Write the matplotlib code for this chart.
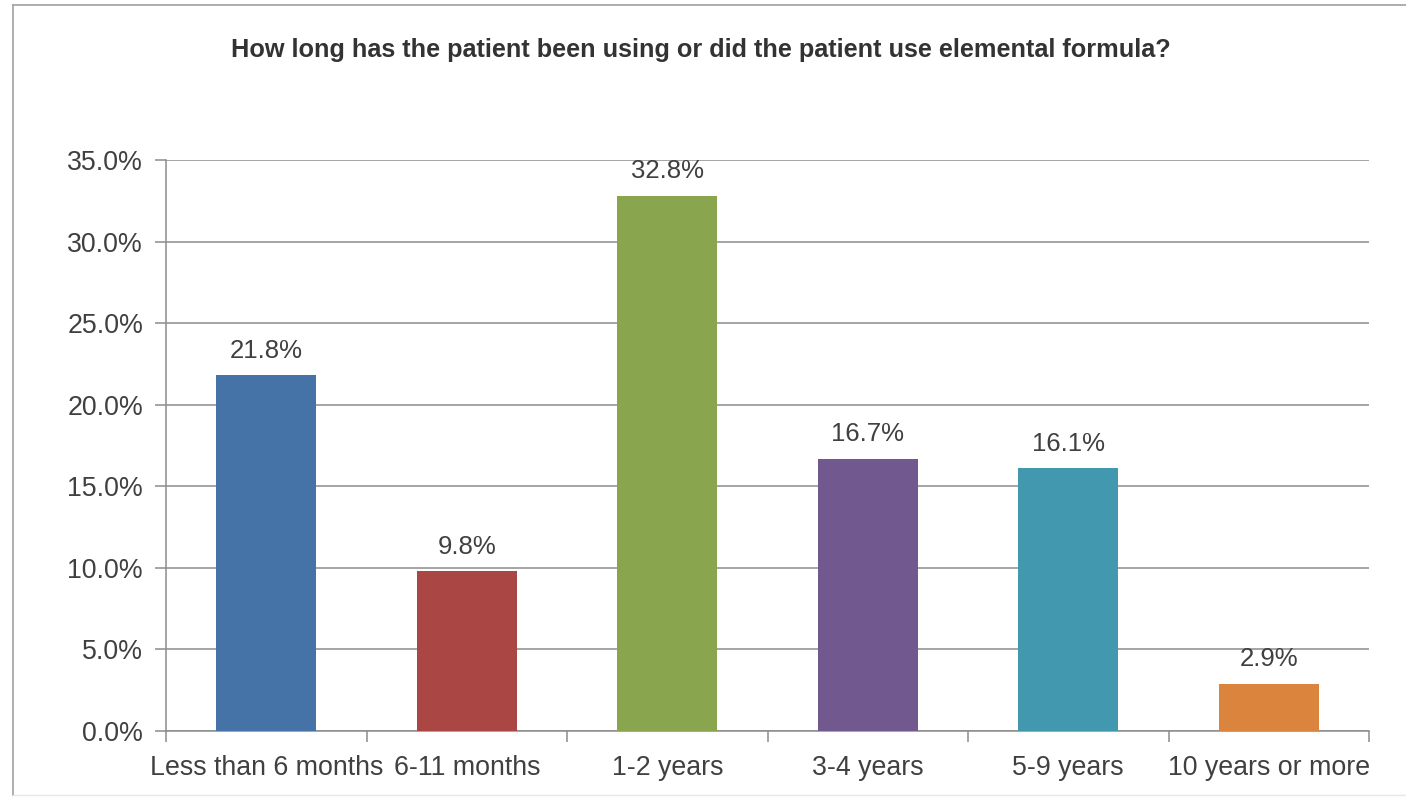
import matplotlib.pyplot as plt
from matplotlib.ticker import FixedLocator, FuncFormatter
from matplotlib.lines import Line2D

# --- DATA ---
categories = ['Less than 6 months', '6-11 months', '1-2 years', '3-4 years', '5-9 years', '10 years or more']
percents = [21.8, 9.8, 32.8, 16.7, 16.1, 2.9]
bar_colors = ['#4572A7', '#AA4643', '#89A54E', '#71588F', '#4198AF', '#DB843D']
y_ticks = [0, 5, 10, 15, 20, 25, 30, 35]
title = 'How long has the patient been using or did the patient use elemental formula?'

plt.rcParams['font.family'] = ['Liberation Sans', 'DejaVu Sans']

fig = plt.figure(figsize=(14.06, 7.98), dpi=100)
ax = fig.add_axes([166 / 1406, 1 - 731 / 798, (1369 - 166) / 1406, (731 - 160) / 798])

x = list(range(len(categories)))
ax.bar(x, percents, width=0.5, color=bar_colors, zorder=3)

for xi, v in zip(x, percents):
    ax.annotate(f'{v:.1f}%', (xi, v), xytext=(0, 9), textcoords='offset points',
                ha='center', va='bottom', fontsize=18.5, color='#404040', zorder=4)

ax.set_xlim(-0.5, len(categories) - 0.5)
ax.set_ylim(0, 35)
ax.set_yticks(y_ticks)
ax.yaxis.set_major_formatter(FuncFormatter(lambda v, p: f'{v:.1f}%'))
ax.grid(axis='y', color='#8c8c8c', linewidth=1.1, zorder=0)

ax.set_xticks(x)
ax.set_xticklabels(categories)
ax.xaxis.set_minor_locator(FixedLocator([i - 0.5 for i in range(len(categories) + 1)]))
ax.tick_params(axis='x', which='major', length=0, pad=17, labelsize=19.3, labelcolor='#404040')
ax.tick_params(axis='x', which='minor', length=8, color='#8c8c8c', width=1.1)
ax.tick_params(axis='y', length=8, color='#8c8c8c', width=1.1, pad=8.5, labelsize=19.3, labelcolor='#404040')

for side in ['top', 'right']:
    ax.spines[side].set_visible(False)
for side in ['left', 'bottom']:
    ax.spines[side].set_color('#8c8c8c')
    ax.spines[side].set_linewidth(1.1)

fig.text(701 / 1406, 1 - 50 / 798, title, ha='center', va='center', fontsize=18.2,
         fontweight='bold', color='#333333')

# chart border
fig.add_artist(Line2D([13 / 1406, 13 / 1406], [1 - 5 / 798, 1 - 795 / 798], color='#a0a0a0', linewidth=1.2))
fig.add_artist(Line2D([13 / 1406, 1.0], [1 - 5 / 798, 1 - 5 / 798], color='#a0a0a0', linewidth=1.2))
fig.add_artist(Line2D([13 / 1406, 1.0], [1 - 795 / 798, 1 - 795 / 798], color='#e8e8e8', linewidth=1))

fig.savefig('out.png', dpi=100)
